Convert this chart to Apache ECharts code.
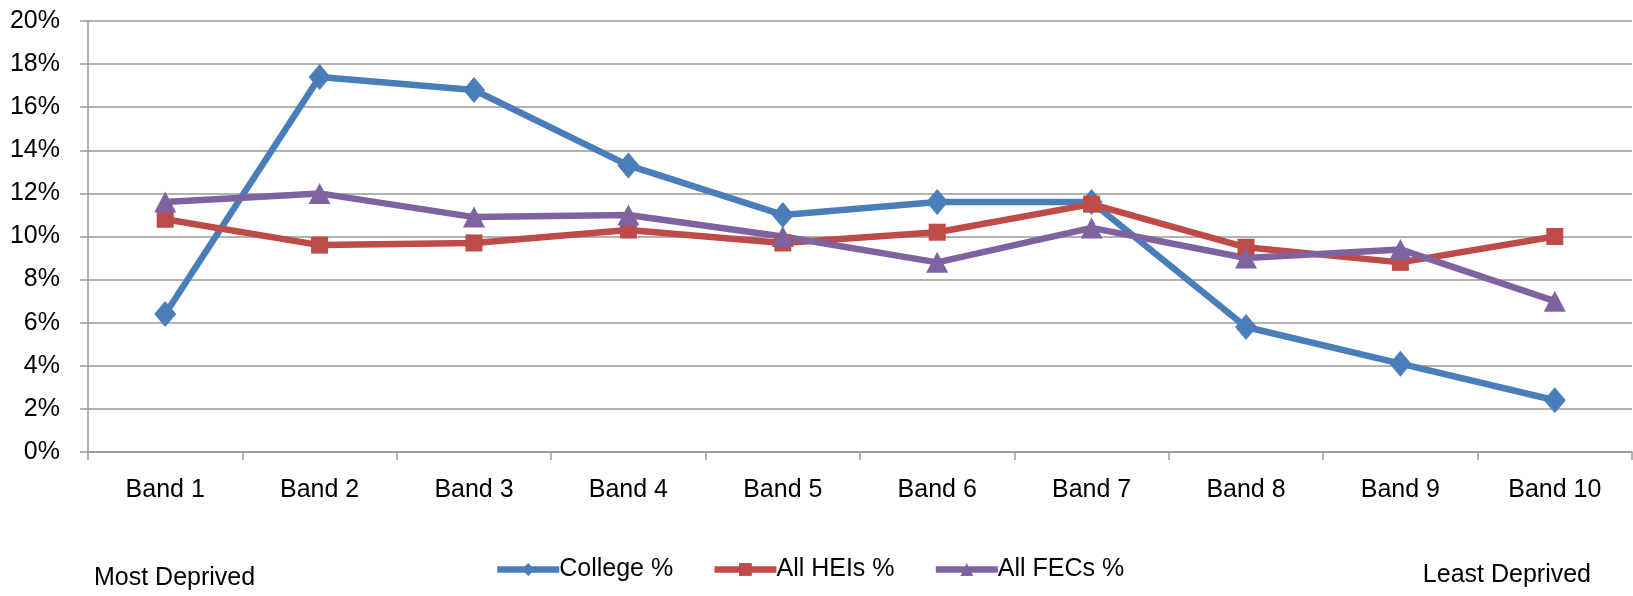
<!DOCTYPE html>
<html>
<head>
<meta charset="utf-8">
<script src="https://cdn.jsdelivr.net/npm/echarts@6/dist/echarts.min.js"></script>
<style>
html,body{margin:0;padding:0;background:#fff;}
#chart{width:1633px;height:596px;}
</style>
</head>
<body>
<div id="chart"></div>
<script>
const categories = ['Band 1','Band 2','Band 3','Band 4','Band 5','Band 6','Band 7','Band 8','Band 9','Band 10'];
const collegePct = [6.4, 17.4, 16.8, 13.3, 11.0, 11.6, 11.6, 5.8, 4.1, 2.4];
const allHEIsPct = [10.8, 9.6, 9.7, 10.3, 9.7, 10.2, 11.5, 9.5, 8.8, 10.0];
const allFECsPct = [11.6, 12.0, 10.9, 11.0, 10.0, 8.8, 10.4, 9.0, 9.4, 7.0];
const seriesNames = ['College %','All HEIs %','All FECs %'];
const leftNote = 'Most Deprived';
const rightNote = 'Least Deprived';

const FONT = '"Liberation Sans", Arial, sans-serif';
const chart = echarts.init(document.getElementById('chart'), null, {renderer:'canvas'});
const axisGray = '#999999';

function mkSeries(name, data, color, symbol, size){
  return {
    name, type:'line', data, symbol, symbolSize:size,
    showAllSymbol:true,
    lineStyle:{color, width:6.5},
    itemStyle:{color},
    emphasis:{disabled:true},
    animation:false
  };
}

chart.setOption({
  animation:false,
  grid:{left:88, right:1, top:21, bottom:144, containLabel:false},
  legend:{
    data:seriesNames,
    left:494, top:557, padding:0,
    itemWidth:62, itemHeight:16, itemGap:38,
    lineStyle:{width:6.5},
    textStyle:{fontFamily:FONT, fontSize:25, color:'#000', padding:[0,0,0,-5]}
  },
  xAxis:{
    type:'category', data:categories, boundaryGap:true,
    axisLine:{lineStyle:{color:axisGray, width:1.5}},
    axisTick:{show:true, length:8, lineStyle:{color:axisGray, width:1.5}, alignWithLabel:false},
    axisLabel:{fontFamily:FONT, fontSize:25, color:'#000', margin:26, interval:0}
  },
  yAxis:{
    type:'value', min:0, max:20, interval:2,
    axisLine:{show:true, lineStyle:{color:axisGray, width:1.5}},
    axisTick:{show:true, length:8, inside:false, lineStyle:{color:axisGray, width:1.5}},
    splitLine:{lineStyle:{color:axisGray, width:1.5}},
    axisLabel:{fontFamily:FONT, fontSize:25, color:'#000', margin:28, formatter:'{value}%'}
  },
  graphic:[
    {type:'text', left:94, top:566, style:{text:leftNote, font:'25px '+FONT, fill:'#000'}},
    {type:'text', right:42, top:563, style:{text:rightNote, font:'25px '+FONT, fill:'#000'}}
  ],
  series:[
    mkSeries(seriesNames[0], collegePct, '#4A7EBB', 'diamond', [22,26]),
    mkSeries(seriesNames[1], allHEIsPct, '#BE4B48', 'rect', [17,17]),
    mkSeries(seriesNames[2], allFECsPct, '#7F63A1', 'triangle', [22,21])
  ]
});
</script>
</body>
</html>
